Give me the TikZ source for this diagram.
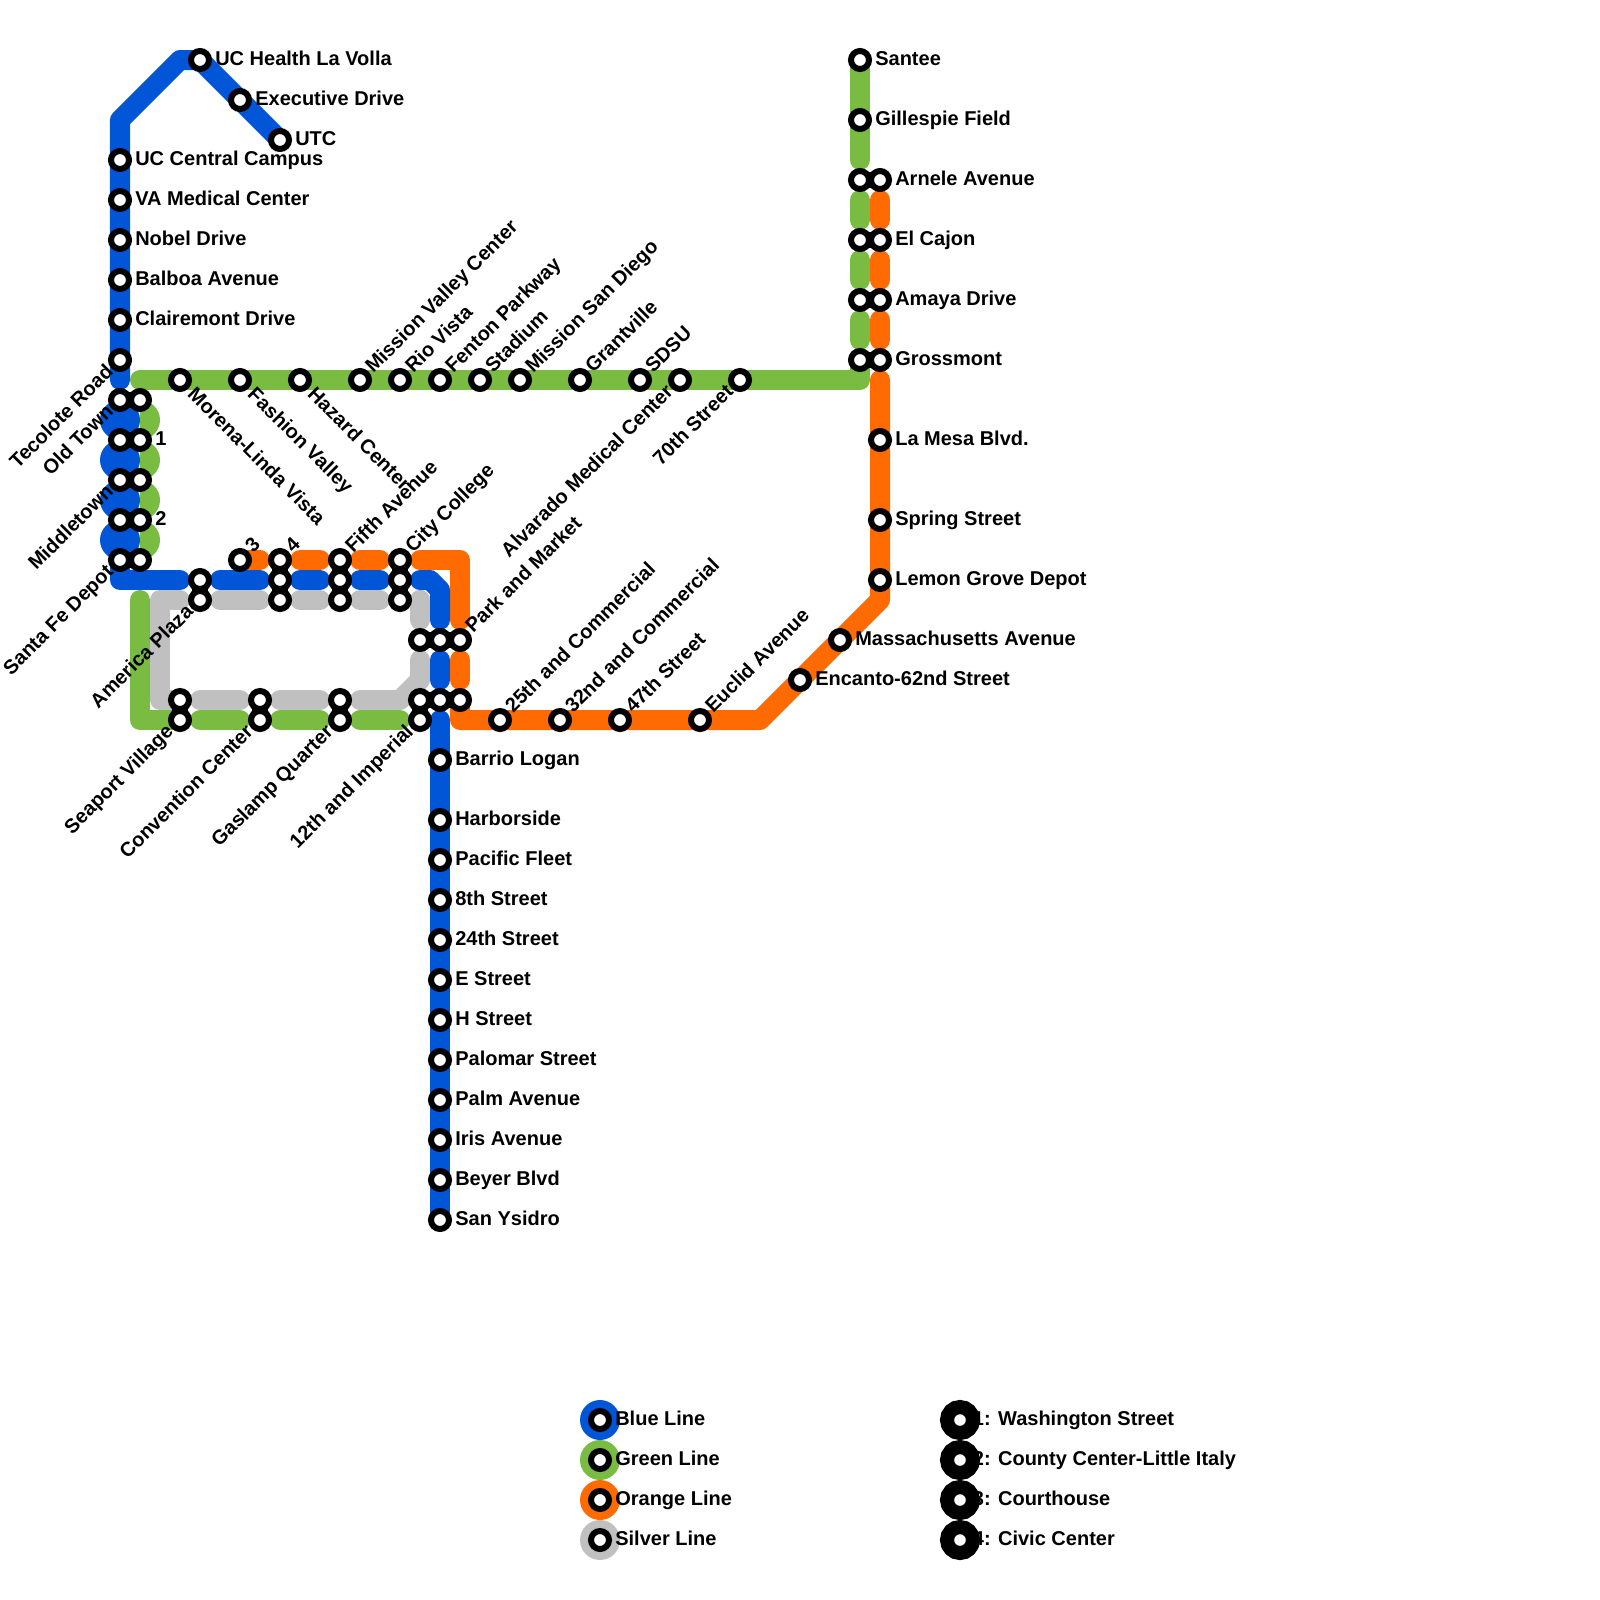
\documentclass[tikz,border=0pt]{standalone}
\usepackage{fontspec}
\setmainfont{Liberation Sans}
\definecolor{blueline}{RGB}{0, 86, 214}
\definecolor{greenline}{RGB}{122, 188, 66}
\definecolor{orangeline}{RGB}{255, 107, 0}
\definecolor{silverline}{RGB}{192, 192, 192}
\usetikzlibrary{backgrounds, positioning}
\tikzset{
	route/.style={line width=0.5cm, line cap=round, line join=round},
	bluepath/.style={route, draw=blueline},
	greenpath/.style={route, draw=greenline},
	orangepath/.style={route, draw=orangeline},
	silverpath/.style={route, draw=silverline},
	gapA/.style={shorten <=0.5cm},
	gapB/.style={shorten >=0.5cm},
	gapAB/.style={gapA, gapB},
	linkbar/.style={line width=0.4cm, draw=black},
	stopnode/.style={circle, draw=black, fill=white, line width=0.15cm, minimum size=0.45cm, inner sep=0pt},
	bigstop/.style={circle, draw=black, fill=white, line width=0.35cm, minimum size=0.65cm, inner sep=0pt},
	disc/.style={circle, minimum size=1cm, inner sep=0pt},
	lbl/.style={font=\bfseries\fontsize{14.23}{16}\selectfont, inner sep=0pt, text=black, text height=10.2pt, text depth=0pt},
	lblE/.style={lbl, anchor=west, xshift=0.375cm, yshift=0.04cm},
	lblNE/.style={lbl, anchor=west, rotate=45, xshift=0.34cm, yshift=0.05cm},
	lblSE/.style={lbl, anchor=west, rotate=-45, xshift=0.39cm, yshift=0.02cm},
	lblSW/.style={lbl, anchor=east, rotate=45, xshift=-0.325cm, yshift=0.05cm},
}

\begin{document}
\begin{tikzpicture}[x=0.025cm, y=-0.025cm]
	\useasboundingbox (0,0) rectangle (1600,1600);
	% stops with a label, name/x/y/style/text
	\foreach \nm/\px/\py/\st/\tx in {
		uhl/200/60/lblE/UC Health La Volla, exd/240/100/lblE/Executive Drive, utc/280/140/lblE/UTC,
		ucc/120/160/lblE/UC Central Campus, vam/120/200/lblE/VA Medical Center, nob/120/240/lblE/Nobel Drive,
		bal/120/280/lblE/Balboa Avenue, cla/120/320/lblE/Clairemont Drive, tec/120/360/lblSW/Tecolote Road,
		olda/120/400/lblSW/Old Town, mida/120/480/lblSW/Middletown, sfda/120/560/lblSW/Santa Fe Depot,
		wasb/140/440/lblE/1, cocb/140/520/lblE/2, cou/240/560/lblNE/3, civa/280/560/lblNE/4,
		fifa/340/560/lblNE/Fifth Avenue, cita/400/560/lblNE/City College,
		apb/200/600/lblSW/America Plaza, svb/180/720/lblSW/Seaport Village, ccb/260/720/lblSW/Convention Center,
		gqb/340/720/lblSW/Gaslamp Quarter, impd/420/720/lblSW/12th and Imperial,
		mlv/180/380/lblSE/Morena-Linda Vista, fav/240/380/lblSE/Fashion Valley, haz/300/380/lblSE/Hazard Center,
		mvc/360/380/lblNE/Mission Valley Center, rio/400/380/lblNE/Rio Vista, fen/440/380/lblNE/Fenton Parkway,
		sta/480/380/lblNE/Stadium, msd/520/380/lblNE/Mission San Diego, gra/580/380/lblNE/Grantville,
		sds/640/380/lblNE/SDSU, alv/680/380/lblSW/Alvarado Medical Center, sev/740/380/lblSW/70th Street,
		san/860/60/lblE/Santee, gil/860/120/lblE/Gillespie Field, arnb/880/180/lblE/Arnele Avenue,
		elcb/880/240/lblE/El Cajon, amab/880/300/lblE/Amaya Drive, groB/880/360/lblE/Grossmont,
		lam/880/440/lblE/La Mesa Blvd., spr/880/520/lblE/Spring Street, lem/880/580/lblE/Lemon Grove Depot,
		mas/840/640/lblE/Massachusetts Avenue, enc/800/680/lblE/Encanto-62nd Street,
		euc/700/720/lblNE/Euclid Avenue, fst/620/720/lblNE/47th Street, tnd/560/720/lblNE/32nd and Commercial,
		tfi/500/720/lblNE/25th and Commercial, pmc/460/640/lblNE/Park and Market,
		bar/440/760/lblE/Barrio Logan, har/440/820/lblE/Harborside, pac/440/860/lblE/Pacific Fleet,
		eig/440/900/lblE/8th Street, tfo/440/940/lblE/24th Street, est/440/980/lblE/E Street,
		hst/440/1020/lblE/H Street, pal/440/1060/lblE/Palomar Street, pam/440/1100/lblE/Palm Avenue,
		iri/440/1140/lblE/Iris Avenue, bey/440/1180/lblE/Beyer Blvd, ysi/440/1220/lblE/San Ysidro}{
		\node[stopnode] (\nm) at (\px,\py) {};
		\node[\st] (l\nm) at (\nm) {\tx};
	}
	% the other halves of the interchanges
	\foreach \nm/\px/\py in {
		oldb/140/400, wasa/120/440, midb/140/480, coca/120/520, sfdb/140/560,
		apa/200/580, civb/280/580, civc/280/600, fifb/340/580, fifc/340/600, citb/400/580, citc/400/600,
		pma/420/640, pmb/440/640, imb/420/700, imc/440/700, imd/460/700,
		sva/180/700, cca/260/700, gqa/340/700, arna/860/180, elca/860/240, amaa/860/300, groA/860/360}{
		\node[stopnode] (\nm) at (\px,\py) {};
	}
	% bends and free ends
	\coordinate (bendA) at (120,120);
	\coordinate (bendB) at (180,60);
	\coordinate (bendC) at (120,580);
	\coordinate (bendD) at (430,580);
	\coordinate (bendE) at (440,590);
	\coordinate (bendF) at (460,560);
	\coordinate (bendG) at (460,720);
	\coordinate (bendH) at (760,720);
	\coordinate (bendI) at (880,600);
	\coordinate (bendJ) at (860,380);
	\coordinate (bendK) at (140,380);
	\coordinate (bendL) at (140,600);
	\coordinate (bendM) at (140,720);
	\coordinate (bendN) at (160,600);
	\coordinate (bendO) at (160,700);
	\coordinate (bendP) at (420,600);
	\coordinate (bendQ) at (420,680);
	\coordinate (bendR) at (400,700);

	\begin{scope}[on background layer]
		\draw[silverpath, gapA] (apb.center) -- (bendN) -- (bendO) -- (sva.center);
		\draw[silverpath, gapAB] (sva.center) -- (cca.center);
		\draw[silverpath, gapAB] (cca.center) -- (gqa.center);
		\draw[silverpath, gapAB] (gqa.center) -- (bendR) -- (bendQ) -- (pma.center);
		\draw[silverpath, gapB] (bendP) -- (pma.center);
		\draw[silverpath, gapAB] (citc.center) -- (fifc.center);
		\draw[silverpath, gapAB] (fifc.center) -- (civc.center);
		\draw[silverpath, gapAB] (civc.center) -- (apb.center);
		\draw[silverpath, gapA] (citc.center) -- (bendP);

		\draw[greenpath, gapB] (san.center) -- (arna.center);
		\draw[greenpath, gapAB] (arna.center) -- (elca.center);
		\draw[greenpath, gapAB] (elca.center) -- (amaa.center);
		\draw[greenpath, gapAB] (amaa.center) -- (groA.center);
		\draw[greenpath] (groA.center) -- (bendJ) -- (bendK);
		\draw[greenpath] (bendL) -- (bendM) -- (svb.center);
		\draw[greenpath, gapAB] (svb.center) -- (ccb.center);
		\draw[greenpath, gapAB] (ccb.center) -- (gqb.center);
		\draw[greenpath, gapAB] (gqb.center) -- (impd.center);
		\begin{scope}
			\clip (140,390) rectangle (170,570);
			\foreach \py in {420,460,500,540}{\fill[greenline] (140,\py) circle (20);}
		\end{scope}

		\draw[orangepath, gapB] (cou.center) -- (civa.center);
		\draw[orangepath, gapAB] (civa.center) -- (fifa.center);
		\draw[orangepath, gapAB] (fifa.center) -- (cita.center);
		\draw[orangepath, gapAB] (cita.center) -- (bendF) -- (pmc.center);
		\draw[orangepath, gapAB] (pmc.center) -- (imd.center);
		\draw[orangepath, gapB] (imd.center) -- (bendG) -- (bendH) -- (bendI) -- (groB.center);
		\draw[orangepath, gapAB] (groB.center) -- (amab.center);
		\draw[orangepath, gapAB] (amab.center) -- (elcb.center);
		\draw[orangepath, gapAB] (elcb.center) -- (arnb.center);

		\draw[bluepath, gapB] (utc.center) -- (uhl.center) -- (bendB) -- (bendA) -- (olda.center);
		\foreach \py in {420,460,500,540}{\fill[blueline] (120,\py) circle (20);}
		\draw[bluepath, gapB] (sfda.center) -- (bendC) -- (apa.center);
		\draw[bluepath, gapAB] (apa.center) -- (civb.center);
		\draw[bluepath, gapAB] (civb.center) -- (fifb.center);
		\draw[bluepath, gapAB] (fifb.center) -- (citb.center);
		\draw[bluepath, gapAB] (citb.center) -- (bendD) -- (bendE) -- (pmb.center);
		\draw[bluepath, gapAB] (pmb.center) -- (imc.center);
		\draw[bluepath, gapA] (imc.center) -- (ysi.center);

		% interchange bars
		\foreach \sa/\sb in {olda/oldb, wasa/wasb, mida/midb, coca/cocb, sfda/sfdb, apa/apb, civa/civc, fifa/fifc, cita/citc,
			pma/pmc, imb/imd, imb/impd, sva/svb, cca/ccb, gqa/gqb, arna/arnb, elca/elcb, amaa/amab, groA/groB}{
			\draw[linkbar] (\sa.center) -- (\sb.center);
		}
	\end{scope}

	% legend
	\foreach \nm/\py/\co/\tx in {bl/1420/blueline/Blue Line, gr/1460/greenline/Green Line, or/1500/orangeline/Orange Line, si/1540/silverline/Silver Line}{
		\node[disc, fill=\co] (d\nm) at (600,\py) {};
		\node[stopnode] (s\nm) at (600,\py) {};
		\node[lblE] (t\nm) at (s\nm) {\tx};
	}
	\foreach \nm/\py/\tx in {one/1420/1: Washington Street, two/1460/2: County Center-Little Italy, thr/1500/3: Courthouse, fou/1540/4: Civic Center}{
		\node[bigstop] (k\nm) at (960,\py) {};
		\node[lblE, xshift=-0.06cm] (t\nm) at (k\nm) {\tx};
	}
\end{tikzpicture}
\end{document}
